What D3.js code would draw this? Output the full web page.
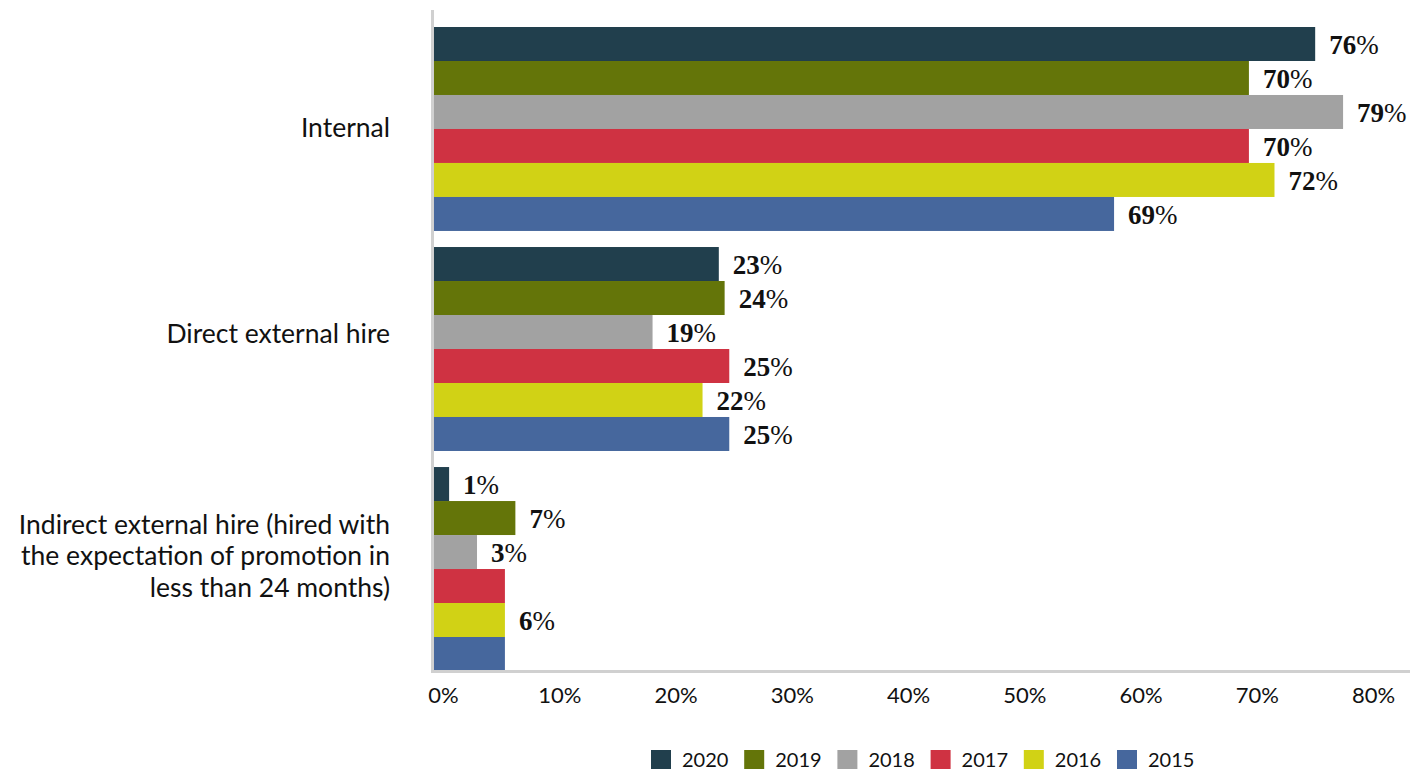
<!DOCTYPE html>
<html>
<head>
<meta charset="utf-8">
<script src="https://cdn.jsdelivr.net/npm/d3@7"></script>
<style>
  html, body { margin: 0; padding: 0; background: #ffffff; }
  svg { display: block; }
</style>
</head>
<body>
<svg id="chart" width="1410" height="770"></svg>
<script>
// ---- Data ----
const categories = [
  "Internal",
  "Direct external hire",
  "Indirect external hire (hired with the expectation of promotion in less than 24 months)"
];
const categoryLines = [
  ["Internal"],
  ["Direct external hire"],
  ["Indirect external hire (hired with", "the expectation of promotion in", "less than 24 months)"]
];
const years = ["2020", "2019", "2018", "2017", "2016", "2015"];
// bar lengths as drawn (percent)
const valuesInternal = [75.8, 70.1, 78.2, 70.1, 72.3, 58.5];
const valuesDirect   = [24.5, 25.0, 18.8, 25.4, 23.1, 25.4];
const valuesIndirect = [1.3, 7.0, 3.7, 6.1, 6.1, 6.1];
// data labels as printed
const labelsInternal = ["76", "70", "79", "70", "72", "69"];
const labelsDirect   = ["23", "24", "19", "25", "22", "25"];
const labelsIndirect = ["1", "7", "3", "", "6", ""];
const tickValues = [0, 10, 20, 30, 40, 50, 60, 70, 80];
const colors = ["#213f4d", "#647509", "#a2a2a2", "#cf3242", "#d1d215", "#46679d"];

const seriesValues = [valuesInternal, valuesDirect, valuesIndirect];
const seriesLabels = [labelsInternal, labelsDirect, labelsIndirect];
const rows = categories.map((c, i) => ({
  cat: c,
  lines: categoryLines[i],
  bars: years.map((y, j) => ({ year: y, value: seriesValues[i][j], label: seriesLabels[i][j] }))
}));

// ---- Layout ----
const svg = d3.select("#chart");
const x = d3.scaleLinear().domain([0, 80]).range([434, 1364]);
const y0 = d3.scaleBand().domain(categories).range([27, 671]).paddingInner(0.073).paddingOuter(0);
const y1 = d3.scaleBand().domain(years).range([0, y0.bandwidth()]);
const color = d3.scaleOrdinal().domain(years).range(colors);
const catLabelOffset = [-1, -15, -13];

// Bars
const groups = svg.append("g").selectAll("g").data(rows).join("g")
  .attr("transform", d => `translate(0,${y0(d.cat)})`);

groups.selectAll("rect").data(d => d.bars).join("rect")
  .attr("x", x(0))
  .attr("y", d => y1(d.year))
  .attr("width", d => x(d.value) - x(0))
  .attr("height", y1.bandwidth())
  .attr("fill", d => color(d.year));

// Data labels
const lbl = groups.selectAll("text.dl").data(d => d.bars.filter(b => b.label !== "")).join("text")
  .attr("class", "dl")
  .attr("x", d => x(d.value) + 14)
  .attr("y", d => y1(d.year) + y1.bandwidth() / 2)
  .attr("dy", "0.36em")
  .style("font-family", "'Liberation Serif', 'DejaVu Serif', serif")
  .style("font-size", "27px")
  .attr("fill", "#111");
lbl.append("tspan").style("font-weight", "900").text(d => d.label);
lbl.append("tspan").style("font-weight", "400").text("%");

// Axes lines
svg.append("line")
  .attr("x1", 432.5).attr("x2", 432.5).attr("y1", 10).attr("y2", 672)
  .attr("stroke", "#d0d0d0").attr("stroke-width", 3);
svg.append("line")
  .attr("x1", 431).attr("x2", 1410).attr("y1", 671.5).attr("y2", 671.5)
  .attr("stroke", "#d0d0d0").attr("stroke-width", 3);

// X axis tick labels
const xAxis = d3.axisBottom(x).tickValues(tickValues).tickSize(0).tickFormat(d => d + "%");
const gx = svg.append("g").attr("transform", "translate(9,680)").call(xAxis);
gx.select(".domain").remove();
gx.selectAll("text")
  .style("font-family", "Lato, 'Open Sans', sans-serif")
  .style("font-size", "22px")
  .attr("fill", "#111")
  .attr("dy", "0.9em");

// Category labels
const catText = svg.append("g").selectAll("text").data(rows).join("text")
  .attr("text-anchor", "end")
  .attr("x", 390)
  .attr("y", (d, i) => y0(d.cat) + y0.bandwidth() / 2 + catLabelOffset[i] - (d.lines.length - 1) * 31.5 / 2)
  .style("font-family", "Lato, 'Open Sans', sans-serif")
  .style("font-size", "26.5px")
  .attr("fill", "#111");
catText.selectAll("tspan").data(d => d.lines).join("tspan")
  .attr("x", 390)
  .attr("dy", (d, i) => i === 0 ? "0.35em" : "31.5px")
  .text(d => d);

// Legend
const legend = svg.append("g").selectAll("g").data(years).join("g")
  .attr("transform", (d, i) => `translate(${651 + i * 93.2},750)`);
legend.append("rect").attr("width", 20).attr("height", 19).attr("fill", d => color(d));
legend.append("text")
  .attr("x", 31).attr("y", 9.5).attr("dy", "0.36em")
  .style("font-family", "Lato, 'Open Sans', sans-serif")
  .style("font-size", "20px")
  .attr("fill", "#111")
  .text(d => d);
</script>
</body>
</html>
